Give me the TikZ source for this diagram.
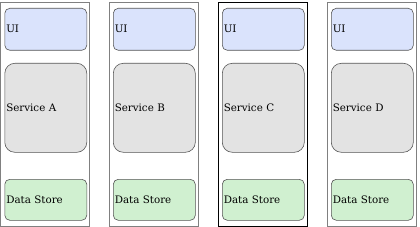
\documentclass[tikz,border=0pt]{standalone}
\usepackage{fontspec}
\setmainfont{DejaVu Serif}
\definecolor{uiblue}{HTML}{DAE3FC}
\definecolor{svcgray}{HTML}{E3E3E3}
\definecolor{dsgreen}{HTML}{D0F0D0}
\definecolor{edge}{HTML}{555555}
\begin{document}
\begin{tikzpicture}[x=1pt,y=-1pt,
  colbox/.style={draw=#1,line width=0.6pt,fill=white},
  part/.style={draw=edge,line width=0.6pt,rounded corners=5pt,anchor=north west,
    minimum width=82pt,inner sep=1.5pt,text width=79pt,align=left,
    font=\fontsize{10.3pt}{12pt}\selectfont},
  uibox/.style={part,fill=uiblue,minimum height=42pt},
  svcbox/.style={part,fill=svcgray,minimum height=89pt,rounded corners=10pt},
  dsbox/.style={part,fill=dsgreen,minimum height=41pt}]
\useasboundingbox (0,0) rectangle (420,227);
\foreach \i/\x/\l/\c in {1/0.5/A/gray,2/109/B/gray,3/218/C/black,4/327/D/gray}{
  \draw[colbox=\c] (\x,2) rectangle ++(89,224);
  \node[uibox] (ui\i) at (\x+4,8) {UI};
  \node[svcbox] (svc\i) at (\x+4,63) {Service \l};
  \node[dsbox] (ds\i) at (\x+4,179) {Data Store};
}
\end{tikzpicture}
\end{document}
